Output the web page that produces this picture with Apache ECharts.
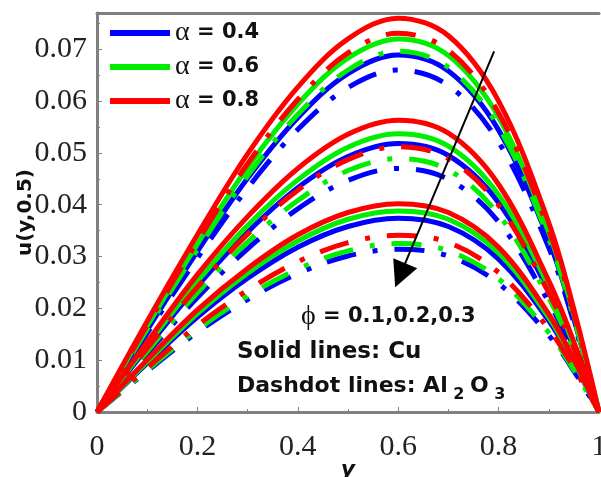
<!DOCTYPE html>
<html>
<head>
<meta charset="utf-8">
<script src="https://cdn.jsdelivr.net/npm/echarts@6/dist/echarts.min.js"></script>
<style>html,body{margin:0;padding:0;background:#fff}#c{width:601px;height:477px}</style>
</head>
<body>
<div id="c"></div>
<script>
// x positions (y coordinate across channel)
const xValues = [0, 0.1, 0.2, 0.3, 0.4, 0.5, 0.6, 0.7, 0.8, 0.9, 0.95, 1];

// phi = 0.1 (top group)
const cuPhi1A04 = [0, 0.0158, 0.0310, 0.0451, 0.0568, 0.0653, 0.0689, 0.0658, 0.0544, 0.0331, 0.0179, 0];
const cuPhi1A06 = [0, 0.0166, 0.0324, 0.0472, 0.0594, 0.0683, 0.0720, 0.0688, 0.0569, 0.0346, 0.0187, 0];
const cuPhi1A08 = [0, 0.0175, 0.0342, 0.0498, 0.0627, 0.0720, 0.0760, 0.0726, 0.0600, 0.0365, 0.0198, 0];
const alPhi1A04 = [0, 0.0152, 0.0297, 0.0432, 0.0545, 0.0626, 0.0660, 0.0630, 0.0521, 0.0317, 0.0172, 0];
const alPhi1A06 = [0, 0.0160, 0.0313, 0.0456, 0.0574, 0.0660, 0.0696, 0.0665, 0.0550, 0.0334, 0.0181, 0];
const alPhi1A08 = [0, 0.0168, 0.0329, 0.0479, 0.0603, 0.0693, 0.0731, 0.0698, 0.0577, 0.0351, 0.0190, 0];

// phi = 0.2 (middle group)
const cuPhi2A04 = [0, 0.0124, 0.0243, 0.0347, 0.0433, 0.0493, 0.0518, 0.0495, 0.0404, 0.0233, 0.0124, 0];
const cuPhi2A06 = [0, 0.0129, 0.0252, 0.0360, 0.0448, 0.0511, 0.0537, 0.0513, 0.0419, 0.0242, 0.0129, 0];
const cuPhi2A08 = [0, 0.0135, 0.0265, 0.0377, 0.0470, 0.0536, 0.0563, 0.0538, 0.0439, 0.0253, 0.0135, 0];
const alPhi2A04 = [0, 0.0113, 0.0221, 0.0315, 0.0392, 0.0447, 0.0470, 0.0449, 0.0367, 0.0212, 0.0113, 0];
const alPhi2A06 = [0, 0.0117, 0.0230, 0.0328, 0.0408, 0.0466, 0.0489, 0.0467, 0.0381, 0.0220, 0.0117, 0];
const alPhi2A08 = [0, 0.0123, 0.0241, 0.0343, 0.0428, 0.0487, 0.0512, 0.0489, 0.0399, 0.0230, 0.0123, 0];

// phi = 0.3 (bottom group)
const cuPhi3A04 = [0, 0.0094, 0.0183, 0.0258, 0.0318, 0.0358, 0.0374, 0.0358, 0.0295, 0.0176, 0.0094, 0];
const cuPhi3A06 = [0, 0.0097, 0.0190, 0.0268, 0.0330, 0.0372, 0.0388, 0.0372, 0.0307, 0.0182, 0.0097, 0];
const cuPhi3A08 = [0, 0.0101, 0.0197, 0.0277, 0.0342, 0.0385, 0.0402, 0.0385, 0.0318, 0.0189, 0.0101, 0];
const alPhi3A04 = [0, 0.0079, 0.0154, 0.0217, 0.0267, 0.0301, 0.0314, 0.0301, 0.0248, 0.0148, 0.0079, 0];
const alPhi3A06 = [0, 0.0081, 0.0159, 0.0224, 0.0276, 0.0311, 0.0325, 0.0311, 0.0257, 0.0153, 0.0081, 0];
const alPhi3A08 = [0, 0.0085, 0.0167, 0.0235, 0.0290, 0.0327, 0.0341, 0.0327, 0.0269, 0.0160, 0.0085, 0];

const legendNames = ['α = 0.4', 'α = 0.6', 'α = 0.8'];
const xTickValues = [0, 0.2, 0.4, 0.6, 0.8, 1];
const yTickValues = [0, 0.01, 0.02, 0.03, 0.04, 0.05, 0.06, 0.07];

// annotation arrow (data coords): tail -> head (centre of arrowhead)
const arrowTail = [0.791, 0.0696];
const arrowHead = [0.604, 0.0264];

const COLORS = {'α = 0.4': '#0000ff', 'α = 0.6': '#00ee00', 'α = 0.8': '#ff0000'};
const DASHDOT = [30, 17, 5, 17];
const SANS = 'DejaVu Sans';

function pts(arr) { return xValues.map((x, i) => [x, arr[i]]); }

const groups = [
  [legendNames[0], cuPhi1A04, alPhi1A04], [legendNames[0], cuPhi2A04, alPhi2A04], [legendNames[0], cuPhi3A04, alPhi3A04],
  [legendNames[1], cuPhi1A06, alPhi1A06], [legendNames[1], cuPhi2A06, alPhi2A06], [legendNames[1], cuPhi3A06, alPhi3A06],
  [legendNames[2], cuPhi1A08, alPhi1A08], [legendNames[2], cuPhi2A08, alPhi2A08], [legendNames[2], cuPhi3A08, alPhi3A08]
];

const series = [];
groups.forEach(([name, cu, al]) => {
  series.push({
    name, type: 'line', data: pts(cu), showSymbol: false, smooth: 0.35,
    color: COLORS[name], lineStyle: {width: 5, color: COLORS[name], type: 'solid'}, silent: true
  });
  series.push({
    name, type: 'line', data: pts(al), showSymbol: false, smooth: 0.35,
    color: COLORS[name], lineStyle: {width: 5, color: COLORS[name], type: DASHDOT, cap: 'butt'}, silent: true
  });
});
series.push({
  type: 'line', data: [], silent: true,
  markLine: {
    silent: true, animation: false, symbol: ['none', 'triangle'], symbolSize: 26,
    label: {show: false}, lineStyle: {color: '#000', width: 2, type: 'solid'},
    emphasis: {disabled: true},
    data: [[{coord: arrowTail}, {coord: arrowHead}]]
  }
});

const chart = echarts.init(document.getElementById('c'), null, {renderer: 'canvas'});
const axisGray = '#808080';
chart.setOption({
  animation: false,
  backgroundColor: '#fff',
  grid: {left: 97, right: 2, top: 13, bottom: 65, containLabel: false, outerBoundsMode: 'none'},
  legend: {
    data: legendNames, orient: 'vertical', left: 105, top: 14, itemWidth: 60, itemHeight: 6,
    itemGap: 6, icon: 'rect', selectedMode: false,
    formatter: n => '{a|α}{b|' + n.slice(1) + '}',
    textStyle: {
      rich: {
        a: {fontFamily: 'Liberation Serif', fontSize: 28, lineHeight: 24, color: '#111'},
        b: {fontFamily: SANS, fontWeight: 'bold', fontSize: 21, lineHeight: 24, color: '#111'}
      }
    }
  },
  xAxis: [{
    type: 'value', min: 0, max: 1, interval: 0.2,
    name: 'y', nameLocation: 'middle', nameGap: 47, nameMoveOverlap: false,
    nameTextStyle: {fontFamily: SANS, fontWeight: 'bold', fontStyle: 'italic', fontSize: 22, color: '#111'},
    axisLine: {show: true, lineStyle: {color: axisGray, width: 3}},
    axisTick: {show: true, inside: true, length: 5, lineStyle: {color: axisGray, width: 1}},
    minorTick: {show: true, splitNumber: 2, length: 3, lineStyle: {color: axisGray}},
    splitLine: {show: false},
    axisLabel: {
      fontFamily: 'Liberation Serif', fontSize: 30, color: '#222', margin: 20,
      formatter: v => String(+v.toFixed(1))
    }
  }, {
    type: 'value', min: 0, max: 1, position: 'top',
    axisLine: {show: true, lineStyle: {color: axisGray, width: 3}},
    axisTick: {show: false}, axisLabel: {show: false}, splitLine: {show: false}
  }],
  yAxis: {
    type: 'value', min: 0, max: 0.077, interval: 0.01,
    name: 'u(y,0.5)', nameLocation: 'middle', nameGap: 61, nameMoveOverlap: false,
    nameTextStyle: {fontFamily: SANS, fontWeight: 'bold', fontSize: 20, color: '#111'},
    axisLine: {show: true, lineStyle: {color: axisGray, width: 3}},
    axisTick: {show: true, inside: true, length: 5, lineStyle: {color: axisGray, width: 1}},
    minorTick: {show: true, splitNumber: 2, length: 3, lineStyle: {color: axisGray}},
    splitLine: {show: false},
    axisLabel: {
      fontFamily: 'Liberation Serif', fontSize: 30, color: '#222', margin: 10, showMaxLabel: false,
      formatter: v => String(+v.toFixed(2))
    }
  },
  graphic: [
    {type: 'text', left: 301, top: 303, silent: true, style: {
      text: '{p|ϕ}{t| = 0.1,0.2,0.3}',
      rich: {p: {fontFamily: 'Liberation Serif', fontSize: 28, lineHeight: 28, fill: '#111'},
             t: {fontFamily: SANS, fontWeight: 'bold', fontSize: 21, lineHeight: 28, fill: '#111'}}
    }},
    {type: 'text', left: 237, top: 341, silent: true, style: {
      text: 'Solid lines: Cu', font: 'bold 23px "DejaVu Sans"', fill: '#111'
    }},
    {type: 'text', left: 237, top: 375, silent: true, style: {
      text: '{t|Dashdot lines: Al}{s| 2 }{t|O}{s| 3}',
      rich: {t: {fontFamily: SANS, fontWeight: 'bold', fontSize: 22, lineHeight: 28, verticalAlign: 'top', fill: '#111'},
             s: {fontFamily: SANS, fontWeight: 'bold', fontSize: 16, lineHeight: 16, verticalAlign: 'bottom', fill: '#111'}}
    }}
  ],
  series
});
</script>
</body>
</html>
